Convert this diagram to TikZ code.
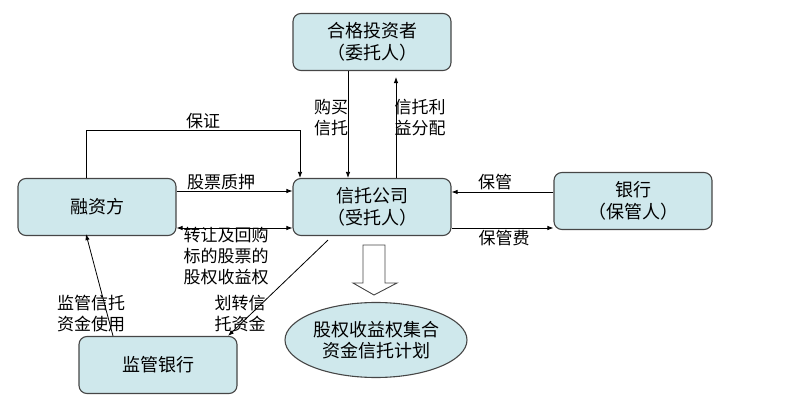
\documentclass[tikz,border=0pt]{standalone}
\usepackage{fontspec}
\setmainfont{Noto Sans CJK SC}
\usetikzlibrary{arrows.meta, positioning, shapes.geometric}
\definecolor{boxfill}{RGB}{207,232,236}
\definecolor{boxline}{RGB}{70,70,70}

\begin{document}
\begin{tikzpicture}[x=1pt, y=-1pt,
    party/.style={draw=boxline, line width=1.1pt, fill=boxfill, rounded corners=8pt,
        minimum width=158pt, minimum height=57pt, align=center,
        font=\fontsize{18}{22}\selectfont},
    plan/.style={ellipse, draw=boxline, line width=1.1pt, fill=boxfill,
        minimum width=182pt, minimum height=75pt, align=center, inner sep=0pt,
        font=\fontsize{18}{21}\selectfont},
    flow/.style={line width=0.8pt, -{Latex[length=6pt,width=4.5pt]}},
    lbl/.style={align=center, inner sep=0pt, font=\fontsize{17}{21}\selectfont}]
    \useasboundingbox (0,0) rectangle (804,414);

    % parties
    \node[party] (investor) at (372,42) {合格投资者\\（委托人）};
    \node[party] (trust) at (372,207) {信托公司\\（受托人）};
    \node[party] (financier) at (97,207) {融资方};
    \node[party] (custodian) at (633,201) {银行\\（保管人）};
    \node[party] (supervisor) at (158,365) {监管银行};
    \node[plan] (scheme) at (376,340) {股权收益权集合\\资金信托计划};

    % hollow arrow down to the plan
    \draw[boxline, line width=0.9pt, fill=white]
        (363,245) -- (385,245) -- (385,283) -- (397,283) -- (374,295)
        -- (353,283) -- (363,283) -- cycle;

    % flows
    \draw[flow] ([xshift=-24pt]investor.south) -- ([xshift=-24pt]trust.north);
    \draw[flow, shorten >=6pt] ([xshift=24pt]trust.north) -- ([xshift=24pt]investor.south);
    \draw[flow] ([xshift=-11pt]financier.north) -- ++(0,-48) -| ([xshift=-72pt]trust.north);
    \draw[flow] ([yshift=16pt]financier.east) -- ([yshift=16pt]financier.east -| trust.west);
    \draw[flow, {Latex[length=6pt,width=4.5pt]}-{Latex[length=6pt,width=4.5pt]}]
        ([yshift=-21pt]financier.east) -- ([yshift=-21pt]financier.east -| trust.west);
    \draw[flow] ([yshift=9pt]custodian.west) -- ([yshift=9pt]custodian.west -| trust.east);
    \draw[flow] ([yshift=-21pt]trust.east) -- ([yshift=-21pt]trust.east -| custodian.west);
    \draw[flow] ([xshift=-44pt,yshift=-4pt]trust.south) -- ([xshift=70pt]supervisor.north);
    \draw[flow] ([xshift=-45pt]supervisor.north) -- ([xshift=-11pt,yshift=2pt]financier.south);

    % labels
    \node[lbl] (buy) at (331,118) {购买\\信托};
    \node[lbl] (profit) at (420,118) {信托利\\益分配};
    \node[lbl] (guarantee) at (203,121) {保证};
    \node[lbl] (pledge) at (221,182) {股票质押};
    \node[lbl] (transfer) at (226,256) {转让及回购\\标的股票的\\股权收益权};
    \node[lbl] (custody) at (495,182) {保管};
    \node[lbl] (fee) at (504,238) {保管费};
    \node[lbl] (fund) at (240,314) {划转信\\托资金};
    \node[lbl] (monitor) at (91,314) {监管信托\\资金使用};
\end{tikzpicture}
\end{document}
